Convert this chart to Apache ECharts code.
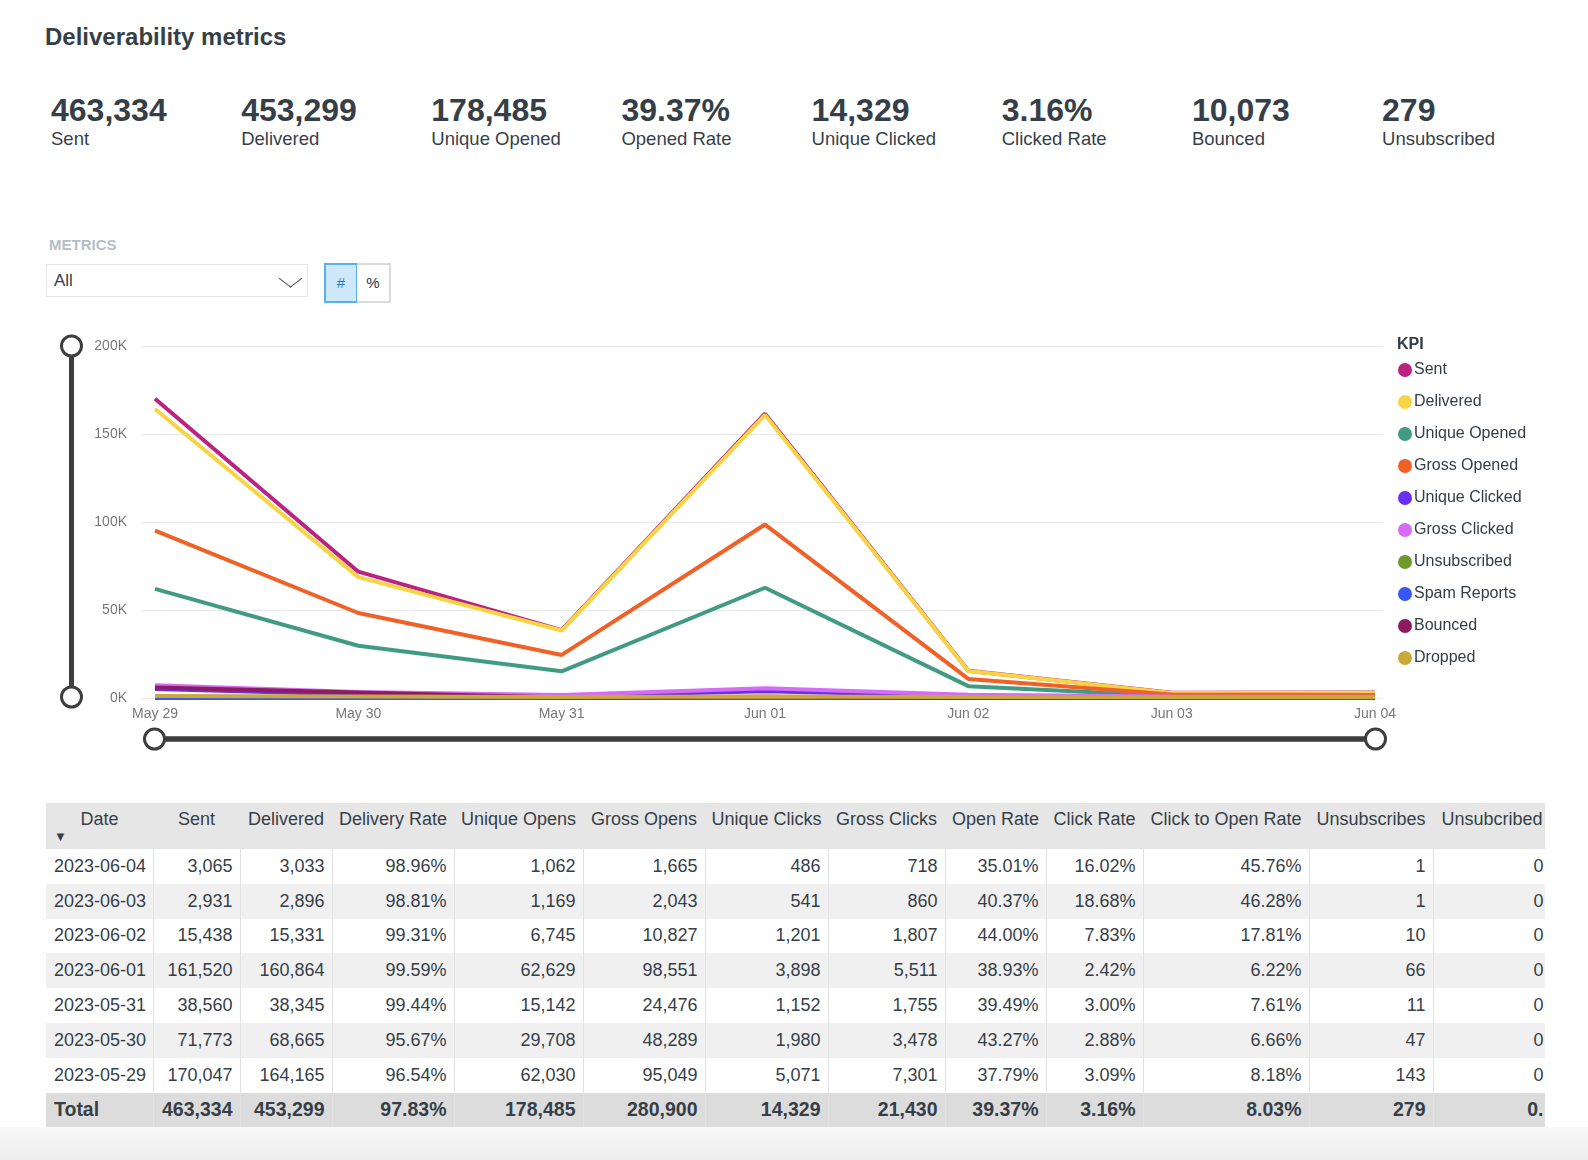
<!DOCTYPE html>
<html>
<head>
<meta charset="utf-8">
<title>Deliverability metrics</title>
<script src="https://cdn.jsdelivr.net/npm/echarts@6/dist/echarts.min.js"></script>
<style>
    body { margin: 0; background: #fff; font-family: "Liberation Sans", Arial, sans-serif; color: #363f48; }
    #page { position: relative; width: 1588px; height: 1160px; overflow: hidden; }
    .title { position: absolute; left: 45px; top: 22px; font-size: 24px; line-height: 29px; font-weight: bold; }
    .kpi { position: absolute; top: 92px; white-space: nowrap; }
    .kpi .num { font-size: 32px; line-height: 36px; font-weight: bold; }
    .kpi .lbl { font-size: 18.5px; line-height: 22px; }
    .metrics-lbl { position: absolute; left: 49px; top: 236px; font-size: 15px; line-height: 18px; font-weight: bold; color: #b5bec6; }
    .dropdown { position: absolute; left: 46px; top: 264px; width: 262px; height: 33px; box-sizing: border-box;
        border: 1px solid #e6e6e6; font-size: 17px; line-height: 31px; padding-left: 7px; }
    .dropdown .chev { position: absolute; right: 10px; top: 7px; width: 12px; height: 12px;
        border-right: 1.5px solid #666; border-bottom: 1.5px solid #666; transform: scaleX(1.3) rotate(45deg); transform-origin: center; }
    .btn { position: absolute; top: 263px; width: 34px; height: 40px; box-sizing: border-box; text-align: center;
        font-size: 15px; line-height: 36px; }
    .btn.num { left: 324px; background: #cde8fb; border: 2px solid #5aaef2; color: #2c7fc4; }
    .btn.pct { left: 357px; background: #fff; border: 2px solid #d8dcdf; border-left: 0; color: #333; }
    #chart { position: absolute; left: 0; top: 320px; width: 1588px; height: 440px; }
    .tbl-wrap { position: absolute; left: 46px; top: 803px; width: 1499px; overflow: hidden; }
    table { border-collapse: collapse; table-layout: fixed; width: 1505px; }
    th { background: #e6e6e6; height: 40px; font-weight: normal; font-size: 18px; line-height: 20px;
        vertical-align: top; padding: 6px 0 0 0; text-align: center; white-space: nowrap; position: relative; }
    th .sort { position: absolute; left: 8px; top: 27px; font-size: 13px; line-height: 13px; }
    td { height: 34.8px; padding: 0 7px; font-size: 18px; text-align: right; white-space: nowrap;
        border-right: 1px solid #e2e2e2; box-sizing: border-box; overflow: hidden; }
    td.date { text-align: left; padding-left: 8px; }
    tr.alt td { background: #f0f0f0; }
    tr.total td { background: #dcdcdc; font-weight: bold; font-size: 19.5px; }
    .foot { position: absolute; left: 0; top: 1127px; width: 1588px; height: 33px;
        background: linear-gradient(#f9f9f9, #ececec); }
</style>
</head>
<body>
<div id="page">
    <div class="title">Deliverability metrics</div>
    <div id="kpis"></div>
    <div class="metrics-lbl">METRICS</div>
    <div class="dropdown">All<span class="chev"></span></div>
    <div class="btn num">#</div>
    <div class="btn pct">%</div>
    <div id="chart"></div>
    <div class="tbl-wrap"><table id="tbl"></table></div>
    <div class="foot"></div>
</div>
<script>
// chronological order, May 29 -> Jun 04
var days = ['May 29', 'May 30', 'May 31', 'Jun 01', 'Jun 02', 'Jun 03', 'Jun 04'];
var isoDates = ['2023-05-29', '2023-05-30', '2023-05-31', '2023-06-01', '2023-06-02', '2023-06-03', '2023-06-04'];
var sent = [170047, 71773, 38560, 161520, 15438, 2931, 3065];
var delivered = [164165, 68665, 38345, 160864, 15331, 2896, 3033];
var deliveryRate = ['96.54%', '95.67%', '99.44%', '99.59%', '99.31%', '98.81%', '98.96%'];
var uniqueOpens = [62030, 29708, 15142, 62629, 6745, 1169, 1062];
var grossOpens = [95049, 48289, 24476, 98551, 10827, 2043, 1665];
var uniqueClicks = [5071, 1980, 1152, 3898, 1201, 541, 486];
var grossClicks = [7301, 3478, 1755, 5511, 1807, 860, 718];
var openRate = ['37.79%', '43.27%', '39.49%', '38.93%', '44.00%', '40.37%', '35.01%'];
var clickRate = ['3.09%', '2.88%', '3.00%', '2.42%', '7.83%', '18.68%', '16.02%'];
var clickToOpen = ['8.18%', '6.66%', '7.61%', '6.22%', '17.81%', '46.28%', '45.76%'];
var unsubscribes = [143, 47, 11, 66, 10, 1, 1];
var unsubcribed = [0, 0, 0, 0, 0, 0, 0];
// only in the chart
var spamReports = [30, 15, 5, 20, 5, 1, 1];
var bounced = [5900, 3115, 220, 660, 108, 37, 33];
var dropped = [1100, 800, 600, 900, 500, 400, 400];

var totalRow = ['Total', '463,334', '453,299', '97.83%', '178,485', '280,900', '14,329', '21,430', '39.37%', '3.16%', '8.03%', '279', '0.'];

var kpiValues = ['463,334', '453,299', '178,485', '39.37%', '14,329', '3.16%', '10,073', '279'];
var kpiLabels = ['Sent', 'Delivered', 'Unique Opened', 'Opened Rate', 'Unique Clicked', 'Clicked Rate', 'Bounced', 'Unsubscribed'];

var headers = ['Date', 'Sent', 'Delivered', 'Delivery Rate', 'Unique Opens', 'Gross Opens', 'Unique Clicks',
    'Gross Clicks', 'Open Rate', 'Click Rate', 'Click to Open Rate', 'Unsubscribes', 'Unsubcribed'];
var colWidths = [107, 87, 92, 122, 129, 122, 123, 117, 101, 97, 166, 124, 118];

var kpiNames = ['Sent', 'Delivered', 'Unique Opened', 'Gross Opened', 'Unique Clicked', 'Gross Clicked',
    'Unsubscribed', 'Spam Reports', 'Bounced', 'Dropped'];
var kpiColors = ['#bb2281', '#f7d444', '#419b82', '#ef6127', '#6b2ef2', '#d66cf3', '#6e9a2b', '#3756f4', '#8d1b62', '#c9a93a'];

var fmt = function (n) { return n.toLocaleString('en-US'); };

// KPI strip
var kpiHtml = '';
for (var i = 0; i < kpiValues.length; i++) {
    kpiHtml += '<div class="kpi" style="left:' + (51 + i * 190.15) + 'px"><div class="num">' + kpiValues[i] +
        '</div><div class="lbl">' + kpiLabels[i] + '</div></div>';
}
document.getElementById('kpis').innerHTML = kpiHtml;

// table, newest first
var html = '<colgroup>';
colWidths.forEach(function (w) { html += '<col style="width:' + w + 'px">'; });
html += '</colgroup><tr>';
headers.forEach(function (h, k) {
    html += '<th>' + h + (k === 0 ? '<span class="sort">&#9660;</span>' : '') + '</th>';
});
html += '</tr>';
for (var r = isoDates.length - 1, row = 0; r >= 0; r--, row++) {
    var cells = [isoDates[r], fmt(sent[r]), fmt(delivered[r]), deliveryRate[r], fmt(uniqueOpens[r]), fmt(grossOpens[r]),
        fmt(uniqueClicks[r]), fmt(grossClicks[r]), openRate[r], clickRate[r], clickToOpen[r], fmt(unsubscribes[r]), fmt(unsubcribed[r])];
    html += '<tr' + (row % 2 === 1 ? ' class="alt"' : '') + '>';
    cells.forEach(function (c, k) { html += '<td' + (k === 0 ? ' class="date"' : '') + '>' + c + '</td>'; });
    html += '</tr>';
}
html += '<tr class="total">';
totalRow.forEach(function (c, k) { html += '<td' + (k === 0 ? ' class="date"' : '') + '>' + c + '</td>'; });
html += '</tr>';
document.getElementById('tbl').innerHTML = html;

// chart
var seriesData = [sent, delivered, uniqueOpens, grossOpens, uniqueClicks, grossClicks, unsubscribes, spamReports, bounced, dropped];
var series = kpiNames.map(function (name, k) {
    return {
        name: name,
        type: 'line',
        xAxisIndex: 1,
        yAxisIndex: 1,
        symbol: 'none',
        lineStyle: { width: 4, color: kpiColors[k] },
        itemStyle: { color: kpiColors[k] },
        emphasis: { disabled: true },
        data: seriesData[k]
    };
});

var zoomStyle = {
    type: 'slider',
    start: 0,
    end: 100,
    filterMode: 'none',
    backgroundColor: '#3e3e3e',
    borderColor: 'transparent',
    fillerColor: '#3e3e3e',
    showDataShadow: false,
    showDetail: false,
    brushSelect: false,
    moveHandleSize: 0,
    handleIcon: 'circle',
    handleSize: 20,
    handleStyle: { color: '#fff', borderColor: '#3e3e3e', borderWidth: 3 }
};

var chart = echarts.init(document.getElementById('chart'));
var option = {
    animation: false,
    textStyle: { fontFamily: '"Liberation Sans", Arial, sans-serif' },
    title: {
        text: 'KPI',
        left: 1397,
        top: 17,
        padding: 0,
        textStyle: { fontSize: 16, fontWeight: 'bold', color: '#333d47' }
    },
    legend: {
        orient: 'vertical',
        left: 1398,
        top: 42,
        padding: 0,
        icon: 'circle',
        itemWidth: 14,
        itemHeight: 14,
        itemGap: 16,
        selectedMode: false,
        textStyle: { fontSize: 16, color: '#333d47', padding: [0, 0, 0, -3] },
        data: kpiNames
    },
    grid: [
        { left: 142, width: 1240, top: 26, height: 352 },
        { left: 155, width: 1220, top: 26, height: 352 }
    ],
    xAxis: [
        { type: 'value', gridIndex: 0, min: 0, max: 1, show: false },
        {
            type: 'category',
            gridIndex: 1,
            data: days,
            boundaryGap: false,
            axisLine: { show: false },
            axisTick: { show: false },
            axisLabel: { color: '#777', fontSize: 14, margin: 9 }
        }
    ],
    yAxis: [
        {
            type: 'value',
            gridIndex: 0,
            min: 0,
            max: 200000,
            interval: 50000,
            axisLine: { show: false },
            axisTick: { show: false },
            splitLine: { lineStyle: { color: '#e8e8e8', width: 1 } },
            axisLabel: {
                color: '#777',
                fontSize: 14,
                margin: 15,
                formatter: function (v) { return (v / 1000) + 'K'; }
            }
        },
        { type: 'value', gridIndex: 1, min: 0, max: 200000, interval: 50000, show: false }
    ],
    dataZoom: [
        Object.assign({}, zoomStyle, { xAxisIndex: 1, left: 151, width: 1223, top: 416.5, height: 5 }),
        Object.assign({}, zoomStyle, { yAxisIndex: [0, 1], orient: 'vertical', left: 67.5, width: 5, top: 25, height: 353 })
    ],
    series: series
};
chart.setOption(option);
</script>
</body>
</html>
